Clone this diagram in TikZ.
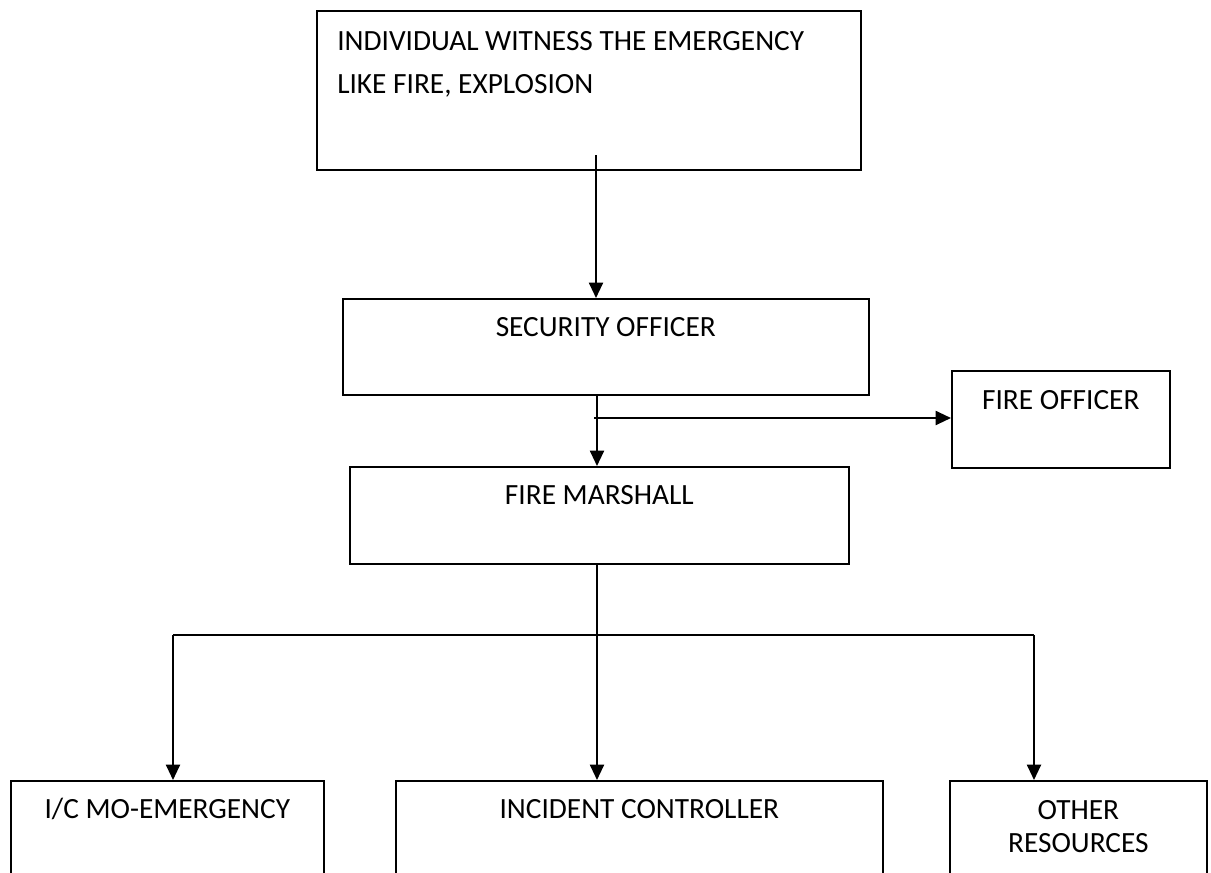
\documentclass[tikz,border=0pt]{standalone}
\usepackage{fontspec}
\setmainfont{Carlito}
\usetikzlibrary{arrows.meta,calc}
\tikzset{
  box/.style={draw=black, line width=1.25pt, rectangle, inner sep=0pt, anchor=north west},
  lbl/.style={inner sep=0pt, font=\fontsize{22}{24.75}\selectfont, align=center},
  conn/.style={line width=1.5pt, draw=black},
  arr/.style={conn, -{Triangle[width=10.5pt,length=11.5pt]}}
}
\begin{document}
\begin{tikzpicture}[x=0.75pt,y=-0.75pt]
\useasboundingbox (0,0) rectangle (1211,872);
\clip (0,0) rectangle (1211,872);
% boxes
\node[box, minimum width=408pt, minimum height=119.25pt] (top) at (316,10) {};
\node[box, minimum width=394.5pt, minimum height=72pt] (sec) at (342,298) {};
\node[box, minimum width=163.5pt, minimum height=72.75pt] (fo) at (951,370) {};
\node[box, minimum width=374.25pt, minimum height=72.75pt] (fm) at (349,466) {};
\node[box, minimum width=234.75pt, minimum height=90pt] (ic) at (10,780) {};
\node[box, minimum width=365.25pt, minimum height=90pt] (inc) at (395,780) {};
\node[box, minimum width=192.75pt, minimum height=90pt] (oth) at (949,780) {};
% labels
\node[lbl, anchor=north west, align=left, font=\fontsize{22}{32.25}\selectfont] (topT) at (337,31) {INDIVIDUAL WITNESS THE EMERGENCY\\LIKE FIRE, EXPLOSION};
\node[lbl] (secT) at ($(sec.north)+(0,29)$) {SECURITY OFFICER};
\node[lbl] (foT) at ($(fo.north)+(0,30)$) {FIRE OFFICER};
\node[lbl] (fmT) at ($(fm.north)+(0,29)$) {FIRE MARSHALL};
\node[lbl] (icT) at ($(ic.north)+(0,29)$) {I/C MO-EMERGENCY};
\node[lbl] (incT) at ($(inc.north)+(0,29)$) {INCIDENT CONTROLLER};
\node[lbl] (othT) at ($(oth.north)+(0,46.5)$) {OTHER\\RESOURCES};
% connectors
\coordinate (s1) at (596,155);
\draw[arr] (s1) -- (s1 |- sec.north);
\coordinate (j1) at (597,418);
\coordinate (j0) at (594,418);
\draw[arr] (sec.south -| j1) -- (fm.north -| j1);
\draw[arr] (j0) -- (j0 -| fo.west);
\coordinate (hL) at (173,635);
\coordinate (hR) at (1034,635);
\coordinate (hC) at (597,635);
\coordinate (tA) at (583,635);
\coordinate (tB) at (697,635);
\draw[conn, line width=1.1pt] (hL) -- (hR);
\draw[conn, line width=1.6pt] (tA) -- (tB);
\draw[arr] (fm.south -| hC) -- (inc.north -| hC);
\draw[arr] (hL) -- (hL |- ic.north);
\draw[arr] (hR) -- (hR |- oth.north);
\end{tikzpicture}
\end{document}
